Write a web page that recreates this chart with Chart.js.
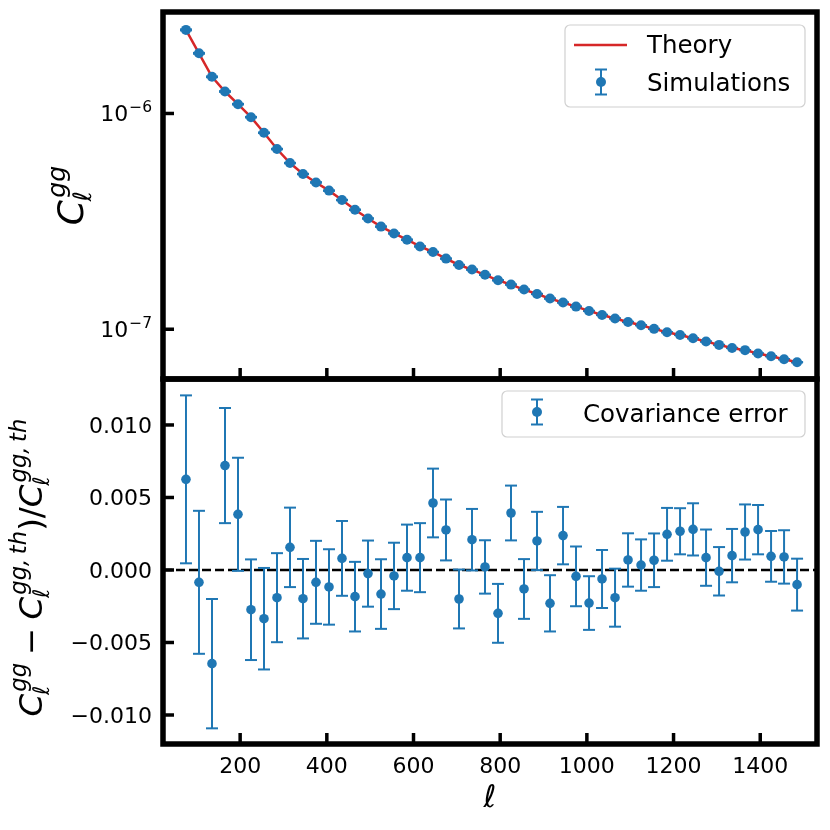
<!DOCTYPE html>
<html>
<head>
<meta charset="utf-8">
<script src="https://cdn.jsdelivr.net/npm/chart.js@4.4.0/dist/chart.umd.min.js"></script>
<style>
  html, body { margin: 0; padding: 0; background: #fff; }
  #wrap { position: relative; width: 830px; height: 830px; }
  canvas { position: absolute; left: 0; top: 0; }
</style>
</head>
<body>
<div id="wrap">
  <canvas id="topChart" width="830" height="830"></canvas>
  <canvas id="bottomChart" width="830" height="830"></canvas>
</div>
<script>
// multipole bin centres
const ell = [75, 105, 135, 165, 195, 225, 255, 285, 315, 345, 375, 405, 435, 465, 495, 525,
  555, 585, 615, 645, 675, 705, 735, 765, 795, 825, 855, 885, 915, 945, 975, 1005,
  1035, 1065, 1095, 1125, 1155, 1185, 1215, 1245, 1275, 1305, 1335, 1365, 1395, 1425, 1455, 1485];

// C_ell^gg, theory curve
const theoryCl = [2.44e-6, 1.90e-6, 1.479e-6, 1.264e-6, 1.104e-6, 9.61e-7, 8.14e-7, 6.84e-7,
  5.89e-7, 5.24e-7, 4.79e-7, 4.39e-7, 3.97e-7, 3.58e-7, 3.26e-7, 2.99e-7,
  2.78e-7, 2.60e-7, 2.42e-7, 2.28e-7, 2.125e-7, 1.985e-7, 1.89e-7, 1.787e-7,
  1.686e-7, 1.61e-7, 1.527e-7, 1.457e-7, 1.387e-7, 1.33e-7, 1.273e-7, 1.216e-7,
  1.165e-7, 1.122e-7, 1.081e-7, 1.044e-7, 1.004e-7, 9.68e-8, 9.41e-8, 9.08e-8,
  8.77e-8, 8.46e-8, 8.19e-8, 8.0e-8, 7.72e-8, 7.5e-8, 7.26e-8, 7.03e-8];

// C_ell^gg, mean of simulations
const simCl = [2.44e-6, 1.90e-6, 1.479e-6, 1.264e-6, 1.104e-6, 9.61e-7, 8.14e-7, 6.84e-7,
  5.89e-7, 5.24e-7, 4.79e-7, 4.39e-7, 3.97e-7, 3.58e-7, 3.26e-7, 2.99e-7,
  2.78e-7, 2.60e-7, 2.42e-7, 2.28e-7, 2.125e-7, 1.985e-7, 1.89e-7, 1.787e-7,
  1.686e-7, 1.61e-7, 1.527e-7, 1.457e-7, 1.387e-7, 1.33e-7, 1.273e-7, 1.216e-7,
  1.165e-7, 1.122e-7, 1.081e-7, 1.044e-7, 1.004e-7, 9.68e-8, 9.41e-8, 9.08e-8,
  8.77e-8, 8.46e-8, 8.19e-8, 8.0e-8, 7.72e-8, 7.5e-8, 7.26e-8, 7.03e-8];

// relative residual (sim - th)/th and its covariance error
const residual = [0.00625, -0.00085, -0.00646, 0.0072, 0.00384, -0.00274, -0.00336, -0.00191,
  0.00156, -0.00198, -0.00085, -0.00117, 0.0008, -0.00184, -0.00025, -0.00166,
  -0.00041, 0.00085, 0.00085, 0.00462, 0.00276, -0.002, 0.00209, 0.00021,
  -0.00299, 0.00393, -0.00131, 0.002, -0.0023, 0.00237, -0.00044, -0.00228,
  -0.00062, -0.00191, 0.00069, 0.00034, 0.00067, 0.00246, 0.00267, 0.0028,
  0.00085, -0.00009, 0.00099, 0.00262, 0.00278, 0.00094, 0.0009, -0.00101];

const residualErr = [0.00579, 0.00493, 0.00446, 0.00397, 0.0039, 0.00347, 0.0035, 0.00307,
  0.00274, 0.00274, 0.00286, 0.0026, 0.00258, 0.0024, 0.00228, 0.0024,
  0.00229, 0.00228, 0.00238, 0.00237, 0.0021, 0.00203, 0.00212, 0.00184,
  0.00203, 0.00189, 0.00206, 0.00201, 0.00194, 0.00198, 0.00206, 0.00185,
  0.002, 0.002, 0.00184, 0.00177, 0.00185, 0.00182, 0.00159, 0.0018,
  0.00194, 0.00167, 0.00184, 0.0019, 0.0017, 0.00175, 0.00184, 0.00179];

// ticks
const xTicks = [200, 400, 600, 800, 1000, 1200, 1400];
const topTicks = [1e-6, 1e-7];
const topTickExp = ['\u22126', '\u22127'];
const bottomTicks = [0.010, 0.005, 0.000, -0.005, -0.010];
const bottomTickLabels = ['0.010', '0.005', '0.000', '\u22120.005', '\u22120.010'];

const blue = '#1f77b4';
const red = '#d62728';
const FONT = '"DejaVu Sans", sans-serif';

function seg(ctx, x1, y1, x2, y2) {
  ctx.beginPath(); ctx.moveTo(x1, y1); ctx.lineTo(x2, y2); ctx.stroke();
}

// simple mathtext: atoms of {base, sup, sub, it, gap}
function drawMath(ctx, atoms, size, draw) {
  let x = 0;
  atoms.forEach(a => {
    x += (a.pre || 0) * size;
    ctx.font = (a.it ? 'italic ' : '') + size + 'px ' + FONT;
    const w = ctx.measureText(a.base).width;
    if (draw) ctx.fillText(a.base, x, 0);
    let extra = 0;
    const s = size * 0.7;
    if (a.sup) {
      ctx.font = 'italic ' + s + 'px ' + FONT;
      const sw = ctx.measureText(a.sup).width + size * 0.06;
      if (draw) ctx.fillText(a.sup, x + w + size * 0.06, -size * 0.5);
      extra = Math.max(extra, sw);
    }
    if (a.sub) {
      ctx.font = 'italic ' + s + 'px ' + FONT;
      const bw = ctx.measureText(a.sub).width - size * 0.04;
      if (draw) ctx.fillText(a.sub, x + w - size * 0.04, size * 0.23);
      extra = Math.max(extra, bw);
    }
    x += w + extra + (a.gap || 0) * size;
  });
  return x;
}

function rotatedMath(ctx, atoms, size, bx, cy) {
  ctx.save();
  ctx.translate(bx, cy);
  ctx.rotate(-Math.PI / 2);
  ctx.fillStyle = '#000';
  ctx.textAlign = 'left';
  ctx.textBaseline = 'alphabetic';
  const w = drawMath(ctx, atoms, size, false);
  ctx.translate(-w / 2, 0);
  drawMath(ctx, atoms, size, true);
  ctx.restore();
}

function drawErrorBars(chart, xs, lo, hi) {
  const ctx = chart.ctx, sx = chart.scales.x, sy = chart.scales.y;
  ctx.save();
  ctx.strokeStyle = blue;
  ctx.lineWidth = 2;
  xs.forEach((v, i) => {
    const px = sx.getPixelForValue(v);
    const p1 = sy.getPixelForValue(lo[i]);
    const p2 = sy.getPixelForValue(hi[i]);
    seg(ctx, px, p1, px, p2);
    seg(ctx, px - 6, p1, px + 6, p1);
    seg(ctx, px - 6, p2, px + 6, p2);
  });
  ctx.restore();
}

function drawFrame(chart, yTickVals, withXLabels) {
  const ctx = chart.ctx, a = chart.chartArea, sx = chart.scales.x, sy = chart.scales.y;
  ctx.save();
  ctx.strokeStyle = '#000';
  ctx.lineWidth = 3.5;
  xTicks.forEach(v => {
    const px = sx.getPixelForValue(v);
    seg(ctx, px, a.bottom, px, a.bottom - 11);
  });
  yTickVals.forEach(v => {
    const py = sy.getPixelForValue(v);
    seg(ctx, a.left, py, a.left + 11, py);
  });
  ctx.lineWidth = 5.5;
  ctx.strokeRect(a.left, a.top, a.right - a.left, a.bottom - a.top);
  if (withXLabels) {
    ctx.fillStyle = '#000';
    ctx.font = '22px ' + FONT;
    ctx.textAlign = 'center';
    ctx.textBaseline = 'alphabetic';
    xTicks.forEach(v => ctx.fillText(String(v), sx.getPixelForValue(v), 773));
  }
  ctx.restore();
}

function legendBox(ctx, x, y, w, h) {
  const r = 5;
  ctx.save();
  ctx.beginPath();
  ctx.moveTo(x + r, y);
  ctx.arcTo(x + w, y, x + w, y + h, r);
  ctx.arcTo(x + w, y + h, x, y + h, r);
  ctx.arcTo(x, y + h, x, y, r);
  ctx.arcTo(x, y, x + w, y, r);
  ctx.closePath();
  ctx.fillStyle = 'rgba(255,255,255,0.8)';
  ctx.fill();
  ctx.strokeStyle = '#d0d0d0';
  ctx.lineWidth = 1.2;
  ctx.stroke();
  ctx.restore();
}

function legendErrorIcon(ctx, cx, cy) {
  ctx.save();
  ctx.strokeStyle = blue;
  ctx.lineWidth = 2;
  seg(ctx, cx, cy - 12.5, cx, cy + 12.5);
  seg(ctx, cx - 6, cy - 12.5, cx + 6, cy - 12.5);
  seg(ctx, cx - 6, cy + 12.5, cx + 6, cy + 12.5);
  ctx.fillStyle = blue;
  ctx.beginPath(); ctx.arc(cx, cy, 5, 0, Math.PI * 2); ctx.fill();
  ctx.restore();
}

const topPlugin = {
  id: 'topPanel',
  beforeDatasetsDraw(chart) {
    drawErrorBars(chart, ell,
      simCl.map((v, i) => v * (1 - residualErr[i])),
      simCl.map((v, i) => v * (1 + residualErr[i])));
  },
  afterDraw(chart) {
    const ctx = chart.ctx, a = chart.chartArea, sy = chart.scales.y;
    drawFrame(chart, topTicks, false);
    ctx.save();
    ctx.fillStyle = '#000';
    ctx.textBaseline = 'alphabetic';
    topTicks.forEach((v, i) => {
      const py = sy.getPixelForValue(v);
      ctx.font = '15.5px ' + FONT;
      ctx.textAlign = 'right';
      ctx.fillText(topTickExp[i], 152, py - 1);
      const ew = ctx.measureText(topTickExp[i]).width;
      ctx.font = '22px ' + FONT;
      ctx.fillText('10', 152 - ew - 1, py + 8);
    });
    ctx.restore();
    rotatedMath(ctx, [{ base: 'C', sup: 'gg', sub: '\u2113', it: true }], 36, 83, (a.top + a.bottom) / 2);

    // legend
    const lx = a.right - 252, ly = a.top + 13;
    legendBox(ctx, lx, ly, 240, 82);
    ctx.save();
    ctx.strokeStyle = red;
    ctx.lineWidth = 2.5;
    seg(ctx, lx + 9, ly + 20, lx + 62, ly + 20);
    ctx.restore();
    legendErrorIcon(ctx, lx + 36, ly + 57);
    ctx.save();
    ctx.fillStyle = '#000';
    ctx.font = '24.5px ' + FONT;
    ctx.textAlign = 'left';
    ctx.textBaseline = 'alphabetic';
    ctx.fillText('Theory', lx + 82, ly + 28);
    ctx.fillText('Simulations', lx + 82, ly + 66);
    ctx.restore();
  }
};

const bottomPlugin = {
  id: 'bottomPanel',
  beforeDatasetsDraw(chart) {
    const ctx = chart.ctx, a = chart.chartArea, sy = chart.scales.y;
    ctx.save();
    ctx.strokeStyle = '#000';
    ctx.lineWidth = 2.5;
    ctx.setLineDash([9, 4]);
    const py = sy.getPixelForValue(0);
    seg(ctx, a.left, py, a.right, py);
    ctx.restore();
    drawErrorBars(chart, ell,
      residual.map((v, i) => v - residualErr[i]),
      residual.map((v, i) => v + residualErr[i]));
  },
  afterDraw(chart) {
    const ctx = chart.ctx, a = chart.chartArea, sy = chart.scales.y;
    drawFrame(chart, bottomTicks, true);
    ctx.save();
    ctx.fillStyle = '#000';
    ctx.font = '22px ' + FONT;
    ctx.textAlign = 'right';
    ctx.textBaseline = 'alphabetic';
    bottomTicks.forEach((v, i) => ctx.fillText(bottomTickLabels[i], 152, sy.getPixelForValue(v) + 8));
    // x label
    ctx.font = 'italic 31px ' + FONT;
    ctx.textAlign = 'center';
    ctx.fillText('\u2113', (a.left + a.right) / 2, 807);
    ctx.restore();
    rotatedMath(ctx, [
      { base: 'C', sup: 'gg', sub: '\u2113', it: true, gap: 0.24 },
      { base: '\u2212', it: false, gap: 0.26 },
      { base: 'C', sup: 'gg,\u2009th', sub: '\u2113', it: true },
      { base: ')/', it: false },
      { base: 'C', sup: 'gg,\u2009th', sub: '\u2113', it: true }
    ], 32.5, 42, (a.top + a.bottom) / 2 + 6);

    // legend
    const lx = a.right - 315, ly = a.top + 12;
    legendBox(ctx, lx, ly, 303, 46);
    legendErrorIcon(ctx, lx + 35, ly + 21);
    ctx.save();
    ctx.fillStyle = '#000';
    ctx.font = '24.5px ' + FONT;
    ctx.textAlign = 'left';
    ctx.textBaseline = 'alphabetic';
    ctx.fillText('Covariance error', lx + 81, ly + 31);
    ctx.restore();
  }
};

// axes stay laid out by Chart.js but draw nothing themselves
const hiddenAxis = extra => Object.assign({
  display: true,
  ticks: { display: false },
  grid: { display: false, drawTicks: false },
  border: { display: false },
  title: { display: false },
  afterFit(scale) { if (scale.isHorizontal()) scale.height = 0; else scale.width = 0; }
}, extra);

function makeOptions(padding, yScale) {
  return {
    responsive: false,
    animation: false,
    events: [],
    layout: { padding: padding },
    scales: {
      x: hiddenAxis({ type: 'linear', min: 22, max: 1531 }),
      y: hiddenAxis(yScale)
    },
    plugins: { legend: { display: false }, tooltip: { enabled: false } }
  };
}

new Chart(document.getElementById('topChart'), {
  type: 'scatter',
  data: {
    datasets: [
      {
        type: 'line', label: 'Theory', order: 2,
        data: ell.map((x, i) => ({ x: x, y: theoryCl[i] })),
        borderColor: red, borderWidth: 2.5, pointRadius: 0, fill: false, tension: 0
      },
      {
        label: 'Simulations', order: 1,
        data: ell.map((x, i) => ({ x: x, y: simCl[i] })),
        backgroundColor: blue, borderColor: blue, pointRadius: 5, borderWidth: 0
      }
    ]
  },
  options: makeOptions({ left: 163, right: 13, top: 12, bottom: 451 },
    { type: 'logarithmic', min: 5.88e-8, max: 2.953e-6 }),
  plugins: [topPlugin]
});

new Chart(document.getElementById('bottomChart'), {
  type: 'scatter',
  data: {
    datasets: [{
      label: 'Covariance error',
      data: ell.map((x, i) => ({ x: x, y: residual[i] })),
      backgroundColor: blue, borderColor: blue, pointRadius: 4.8, borderWidth: 0
    }]
  },
  options: makeOptions({ left: 163, right: 13, top: 379, bottom: 86 },
    { type: 'linear', min: -0.0120, max: 0.01317 }),
  plugins: [bottomPlugin]
});
</script>
</body>
</html>
